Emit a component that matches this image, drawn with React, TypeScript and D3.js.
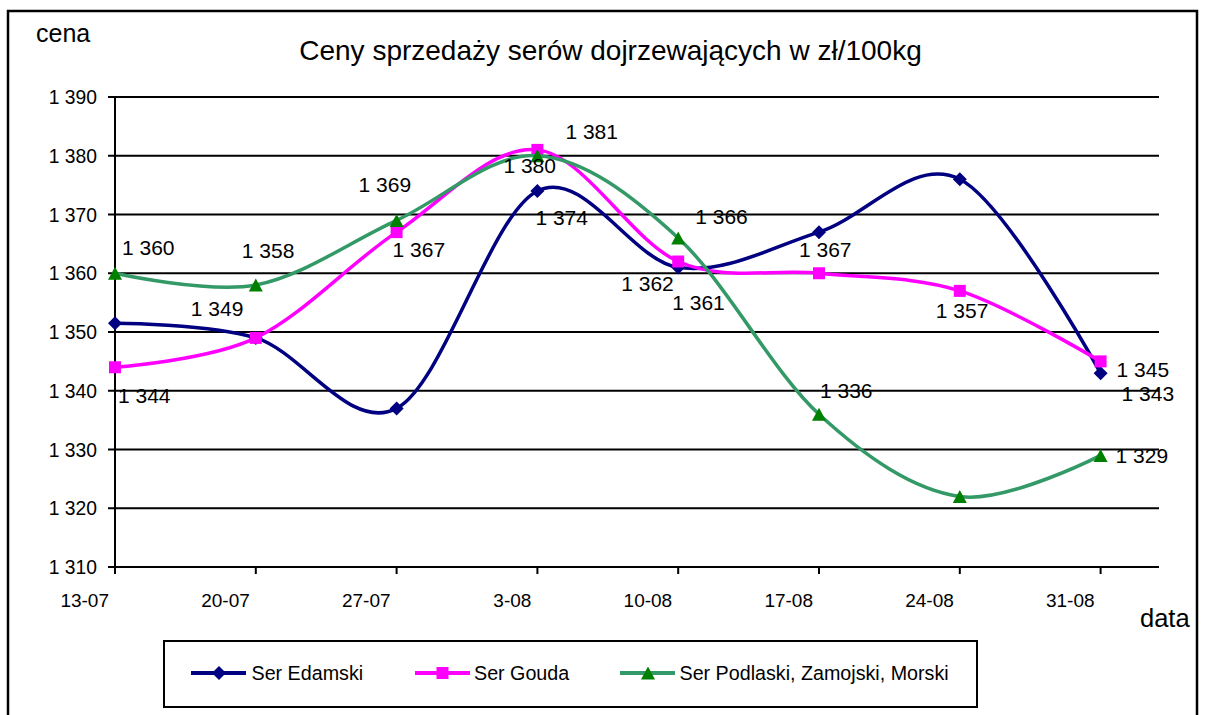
import React from 'react';
import * as d3 from 'd3';

const categories = ['13-07', '20-07', '27-07', '3-08', '10-08', '17-08', '24-08', '31-08'];
const edamski = [1351.5, 1349, 1337, 1374, 1361, 1367, 1376, 1343];
const gouda = [1344, 1349, 1367, 1381, 1362, 1360, 1357, 1345];
const podlaski = [1360, 1358, 1369, 1380, 1366, 1336, 1322, 1329];
const yTicks = [1310, 1320, 1330, 1340, 1350, 1360, 1370, 1380, 1390];
const seriesNames = ['Ser Edamski', 'Ser Gouda', 'Ser Podlaski, Zamojski, Morski'];
const titleText = 'Ceny sprzedaży serów dojrzewających w zł/100kg';
const yAxisTitle = 'cena';
const xAxisTitle = 'data';

// data-label placement relative to the point (null = label not shown)
const edamskiLabelOffsets: ([number, number] | null)[] = [null, [-65, -22], null, [-2, 34], [-6, 43], [-20, 25], null, [21, 27.5]];
const goudaLabelOffsets: ([number, number] | null)[] = [[3, 36], null, [-4, 25], [28, -11], [-57, 29], null, [-24, 27], [16, 15.5]];
const podlaskiLabelOffsets: ([number, number] | null)[] = [[7, -18], [-14, -27], [-38, -28], [-34, 17.5], [17, -14], [1, -16], null, [15, 8]];

const FONT = '"Liberation Sans", Arial, sans-serif';
const fmt = d3.formatLocale({ decimal: ',', thousands: ' ', grouping: [3], currency: ['', ''] }).format(',d');

const X0 = 115, XN = 1100.6, XEND = 1159;
const YTOP = 97, YBOT = 567;

const x = d3.scalePoint<string>().domain(categories).range([X0, XN]);
const y = d3.scaleLinear().domain([1310, 1390]).range([YBOT, YTOP]);

const markerPath = {
  diamond: 'M0,-7L7,0L0,7L-7,0Z',
  square: 'M-6,-6L6,-6L6,6L-6,6Z',
  triangle: 'M0,-6.5L7,6.5L-7,6.5Z',
};

const series = [
  { name: seriesNames[0], values: edamski, line: '#000080', fill: '#000080', marker: markerPath.diamond, labels: edamskiLabelOffsets },
  { name: seriesNames[1], values: gouda, line: '#FF00FF', fill: '#FF00FF', marker: markerPath.square, labels: goudaLabelOffsets },
  { name: seriesNames[2], values: podlaski, line: '#339966', fill: '#008000', marker: markerPath.triangle, labels: podlaskiLabelOffsets },
];

const lineGen = d3
  .line<number>()
  .x((_, i) => x(categories[i]) as number)
  .y((d) => y(d))
  .curve(d3.curveCatmullRom.alpha(0));

const legendItems = [
  { lx0: 191, lx1: 246, mx: 219, tx: 251.5 },
  { lx0: 415, lx1: 470, mx: 442.5, tx: 474 },
  { lx0: 620, lx1: 675, mx: 648, tx: 679.5 },
];

export default function App() {
  return (
    <svg
      width={1208}
      height={715}
      style={{ position: 'absolute', left: 0, top: 0, display: 'block', background: '#fff' }}
      fontFamily={FONT}
    >
      <rect x={0} y={0} width={1208} height={715} fill="#fff" />
      <rect x={8} y={11} width={1189} height={730} fill="none" stroke="#000" strokeWidth={2.5} />

      <text x={610.5} y={60} fontSize={28} textAnchor="middle" fill="#000">{titleText}</text>
      <text x={36} y={42} fontSize={25} fill="#000">{yAxisTitle}</text>
      <text x={1140} y={627} fontSize={25.5} fill="#000">{xAxisTitle}</text>

      {/* gridlines */}
      {yTicks.map((t) => (
        <g key={t}>
          {t !== 1310 && (
            <line x1={X0} x2={XEND} y1={y(t)} y2={y(t)} stroke="#000" strokeWidth={2} />
          )}
          <line x1={108} x2={X0} y1={y(t)} y2={y(t)} stroke="#000" strokeWidth={2} />
          <text x={97} y={y(t) + 7} fontSize={19.3} textAnchor="end" fill="#000">{fmt(t)}</text>
        </g>
      ))}

      {/* axes */}
      <line x1={X0} x2={X0} y1={YTOP} y2={YBOT + 1} stroke="#000" strokeWidth={2} />
      <line x1={X0} x2={XEND} y1={YBOT} y2={YBOT} stroke="#000" strokeWidth={2} />
      {categories.map((c) => (
        <g key={c}>
          <line x1={x(c)} x2={x(c)} y1={YBOT} y2={YBOT + 7} stroke="#000" strokeWidth={2} />
          <text x={(x(c) as number) - 6} y={607} fontSize={19} textAnchor="end" fill="#000">{c}</text>
        </g>
      ))}

      {/* series */}
      {series.map((s) => (
        <g key={s.name}>
          <path d={lineGen(s.values) || ''} fill="none" stroke={s.line} strokeWidth={3.5} strokeLinejoin="round" />
          {s.values.map((v, i) => (
            <path key={i} d={s.marker} transform={`translate(${x(categories[i])},${y(v)})`} fill={s.fill} stroke="none" />
          ))}
        </g>
      ))}

      {/* data labels */}
      {series.map((s) => (
        <g key={s.name + '-lab'}>
          {s.values.map((v, i) => {
            const off = s.labels[i];
            if (!off) return null;
            return (
              <text key={i} x={(x(categories[i]) as number) + off[0]} y={y(v) + off[1]} fontSize={21} fill="#000">
                {fmt(Math.round(v))}
              </text>
            );
          })}
        </g>
      ))}

      {/* legend */}
      <rect x={164} y={641} width={813} height={66} fill="#fff" stroke="#000" strokeWidth={2} />
      {series.map((s, i) => {
        const it = legendItems[i];
        return (
          <g key={s.name + '-leg'}>
            <line x1={it.lx0} x2={it.lx1} y1={673} y2={673} stroke={s.line} strokeWidth={4} />
            <path d={s.marker} transform={`translate(${it.mx},673)`} fill={s.fill} />
            <text x={it.tx} y={679.5} fontSize={19.7} fill="#000">{s.name}</text>
          </g>
        );
      })}
    </svg>
  );
}
